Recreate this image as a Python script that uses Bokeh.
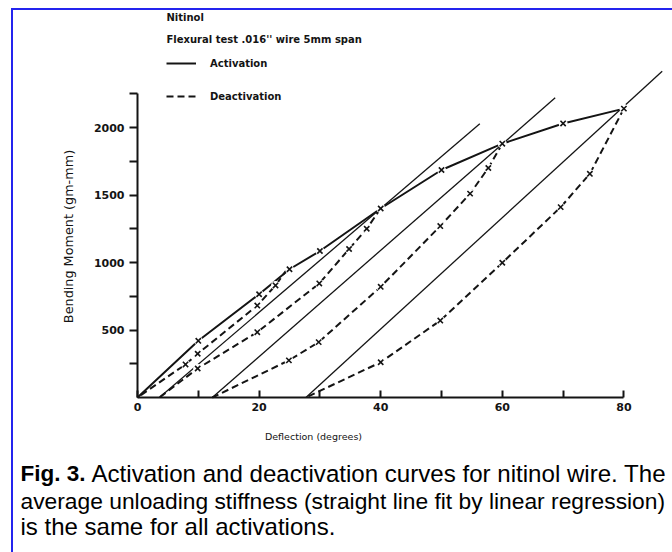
import math
from bokeh.plotting import figure
from bokeh.models import Range1d, FixedTicker, Label, Legend, LegendItem
from bokeh.embed import file_html
from bokeh.resources import INLINE

# ---------------- data ----------------
act_x = [0, 10, 20, 25, 30, 40, 50, 60, 70, 80]
act_y = [0, 420, 765, 950, 1085, 1400, 1685, 1880, 2030, 2140]

d1_x = [24.6, 22.7, 19.7, 9.9, 7.9, 0.0]
d1_y = [950, 830, 681, 324, 245, 0]
d2_x = [40, 37.7, 34.8, 29.9, 19.7, 9.9, 3.6]
d2_y = [1400, 1250, 1100, 845, 484, 215, 0]
d3_x = [60, 57.7, 54.7, 49.8, 40, 29.8, 24.9, 12.3]
d3_y = [1880, 1700, 1510, 1270, 820, 410, 275, 0]
d4_x = [80, 74.4, 69.6, 60, 49.8, 40, 27.7]
d4_y = [2140, 1657, 1410, 998, 570, 261, 0]

reg_x0 = [3.6, 12.3, 27.7]
reg_y0 = [0, 0, 0]
reg_x1 = [56.3, 68.7, 86.3]
reg_y1 = [2027, 2220, 2417]

x_ticks = [0, 10, 20, 30, 40, 50, 60, 70, 80]
x_tick_labels = ["0", "", "20", "", "40", "", "60", "", "80"]
y_ticks = [250, 500, 750, 1000, 1250, 1500, 1750, 2000, 2250]
y_tick_labels = ["", "500", "", "1000", "", "1500", "", "2000", ""]

title_lines = ["Nitinol", "Flexural test .016'' wire 5mm span"]
legend_labels = ["Activation", "Deactivation"]
x_title = "Deflection (degrees)"
y_title = "Bending Moment (gm-mm)"
caption_bold = "Fig. 3."
caption_lines = ["Activation and deactivation curves for nitinol wire. The",
                 "average unloading stiffness (straight line fit by linear regression)",
                 "is the same for all activations."]

# ---------------- layout helpers (pixel -> data) ----------------
W, H = 672, 552
X0PX, XS = 137.0, 6.08     # px of x=0, px per degree
Y0PX, YS = 397.0, 0.135    # px of y=0, px per gm-mm


def dx(px):
    return (px - X0PX) / XS


def dy(py):
    return (Y0PX - py) / YS


INK = "#141414"
p = figure(width=W, height=H, x_range=Range1d(dx(0), dx(W)), y_range=Range1d(dy(H), dy(0)),
           output_backend="svg", toolbar_location=None,
           min_border_left=0, min_border_right=0, min_border_top=0, min_border_bottom=0)
p.xgrid.visible = False
p.ygrid.visible = False
p.outline_line_color = None
p.background_fill_color = None
p.border_fill_color = None
p.styles = {"background": "linear-gradient(#2424ee, #2424ee) 11px 8px / 2px 100% no-repeat, "
                          "linear-gradient(#2424ee, #2424ee) 11px 8px / 100% 2px no-repeat, #ffffff"}

# regression lines
p.segment(x0=reg_x0, y0=reg_y0, x1=reg_x1, y1=reg_y1, line_color=INK, line_width=1.3)

# deactivation curves
deact = p.multi_line(xs=[d1_x, d2_x, d3_x, d4_x], ys=[d1_y, d2_y, d3_y, d4_y],
                     line_color=INK, line_width=2, line_dash="7 4")
# activation curve
act = p.line(act_x, act_y, line_color=INK, line_width=2)

# markers
mx = act_x[1:] + d1_x[1:-1] + d2_x[1:-1] + d3_x[1:-1] + d4_x[1:-1]
my = act_y[1:] + d1_y[1:-1] + d2_y[1:-1] + d3_y[1:-1] + d4_y[1:-1]
p.scatter(mx, my, marker="circle", size=9, fill_color="white", line_color=None)
p.scatter(mx, my, marker="x", size=7.5, line_color=INK, line_width=1.6)

# axes, fixed at the data origin
p.xaxis.fixed_location = 0
p.yaxis.fixed_location = 0
p.xaxis.ticker = FixedTicker(ticks=x_ticks)
p.xaxis.major_label_overrides = dict(zip(x_ticks, x_tick_labels))
p.xaxis.bounds = (0, 80)
p.xaxis.major_tick_in = 7
p.xaxis.major_tick_out = 0
p.xaxis.minor_tick_line_color = None
p.xaxis.major_label_standoff = 5
p.yaxis.ticker = FixedTicker(ticks=y_ticks)
p.yaxis.major_label_overrides = dict(zip(y_ticks, y_tick_labels))
p.yaxis.bounds = (0, 2250)
p.yaxis.major_tick_in = 0
p.yaxis.major_tick_out = 8
p.yaxis.minor_tick_line_color = None
p.yaxis.major_label_standoff = 5
for ax in (p.xaxis[0], p.yaxis[0]):
    ax.axis_line_color = INK
    ax.axis_line_width = 2
    ax.major_tick_line_color = INK
    ax.major_tick_line_width = 2
    ax.major_label_text_font = "DejaVu Sans"
    ax.major_label_text_font_style = "bold"
    ax.major_label_text_font_size = "11px"
    ax.major_label_text_color = INK

# legend (location = bottom-left corner, in px from the frame's bottom-left)
legend = Legend(items=[LegendItem(label=legend_labels[0], renderers=[act]),
                       LegendItem(label=legend_labels[1], renderers=[deact])],
                location=(166, H - 106), glyph_width=30, glyph_height=20, label_height=20,
                spacing=13, padding=0, margin=0, label_standoff=14,
                border_line_color=None, background_fill_alpha=0,
                label_text_font="DejaVu Sans", label_text_font_style="bold",
                label_text_font_size="10px", label_text_color=INK)
p.add_layout(legend)

# title texts
for t, ypx in zip(title_lines, [17, 39]):
    p.add_layout(Label(x=dx(166), y=dy(ypx), text=t,
                       text_font="DejaVu Sans", text_font_style="bold", text_font_size="10px",
                       text_color=INK, text_align="left", text_baseline="middle"))

p.add_layout(Label(x=dx(313), y=dy(436), text=x_title, text_font="DejaVu Sans",
                   text_font_size="9.5px", text_color=INK, text_align="center", text_baseline="middle"))
p.add_layout(Label(x=dx(68), y=dy(236), text=y_title, angle=math.pi / 2, text_font="DejaVu Sans",
                   text_font_size="12.8px", text_color=INK, text_align="center", text_baseline="middle"))

# caption
cap_py = [473, 500, 526]
cap_size = ["24.1px", "22.8px", "24px"]
p.add_layout(Label(x=dx(20), y=dy(cap_py[0]), text=caption_bold, text_font="Liberation Sans",
                   text_font_style="bold", text_font_size="22.5px", text_color="#000000",
                   text_align="left", text_baseline="middle"))
p.add_layout(Label(x=dx(91), y=dy(cap_py[0]), text=caption_lines[0], text_font="Liberation Sans",
                   text_font_size=cap_size[0], text_color="#000000", text_align="left",
                   text_baseline="middle"))
for t, ypx, fs in zip(caption_lines[1:], cap_py[1:], cap_size[1:]):
    p.add_layout(Label(x=dx(20), y=dy(ypx), text=t, text_font="Liberation Sans",
                       text_font_size=fs, text_color="#000000", text_align="left",
                       text_baseline="middle"))

open("out.html", "w").write(file_html(p, INLINE))
